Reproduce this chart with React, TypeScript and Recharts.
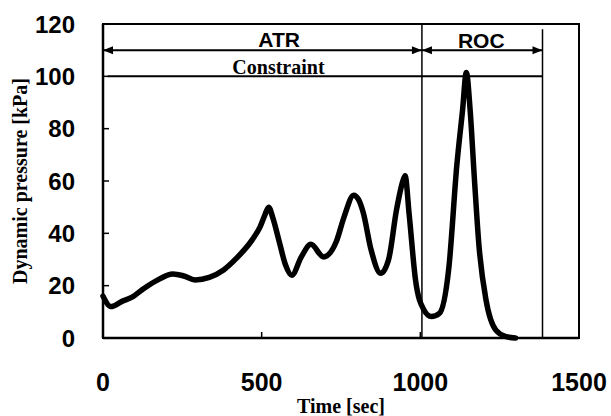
import React from "react";
import {
  LineChart,
  Line,
  XAxis,
  YAxis,
  ReferenceLine,
  ReferenceArea,
  ReferenceDot,
} from "recharts";

// time [sec]
const times = [
  0, 25, 60, 90, 130, 170, 220, 255, 290, 335, 380, 420, 470, 495, 510, 522,
  535, 555, 575, 595, 625, 655, 695, 735, 760, 790, 805, 820, 845, 875, 900,
  925, 945, 952, 965, 985, 1010, 1035, 1060, 1090, 1115, 1133, 1145, 1157,
  1170, 1185, 1207, 1238, 1270, 1300,
];
// dynamic pressure [kPa]
const pressure = [
  16, 12, 14, 15.5, 19, 22, 24.5, 23.7, 22.2, 23.2, 26, 30.4, 37.5, 42.5, 47,
  50, 46, 37, 28, 24, 31, 35.8, 31, 36.8, 46.4, 54.6, 53, 48, 33.6, 24.7, 30,
  49, 60, 62, 47, 22, 11, 8.2, 9.4, 27, 66, 87, 101.5, 87, 61.6, 35, 14.5, 3,
  0.5, 0,
];

const xTicks = [0, 500, 1000, 1500];
const yTicks = [0, 20, 40, 60, 80, 100, 120];

const constraint = 100;
const atrEnd = 1005;
const rocEnd = 1385;
const arrowLevel = 110;

const data = times.map((t, i) => ({ t, p: pressure[i] }));

const SANS = "'Liberation Sans', Arial, sans-serif";
const SERIF = "'Liberation Serif', 'Times New Roman', serif";

const YTick = (props: any) => {
  const { x, y, payload } = props;
  return (
    <g>
      <line x1={x} x2={x + 6} y1={y} y2={y} stroke="#000" strokeWidth={1.5} />
      <text
        x={x - 28}
        y={y}
        textAnchor="end"
        dominantBaseline="central"
        fontFamily={SANS}
        fontWeight="bold"
        fontSize={24}
        fill="#000"
      >
        {payload.value}
      </text>
    </g>
  );
};

const XTick = (props: any) => {
  const { x, y, payload } = props;
  return (
    <g>
      <line x1={x} x2={x} y1={y} y2={y - 6} stroke="#000" strokeWidth={1.5} />
      <text
        x={x}
        y={y + 44}
        textAnchor="middle"
        dominantBaseline="central"
        fontFamily={SANS}
        fontWeight="bold"
        fontSize={25}
        fill="#000"
      >
        {payload.value}
      </text>
    </g>
  );
};

// double headed arrow
const Arrow = (props: any) => {
  const { x1, y1, x2, y2 } = props;
  const a = 10;
  const h = 4;
  return (
    <g>
      <line x1={x1} y1={y1} x2={x2} y2={y2} stroke="#000" strokeWidth={2} />
      <path
        d={`M${x1},${y1} L${x1 + a},${y1 - h} L${x1 + a},${y1 + h} Z`}
        fill="#000"
      />
      <path
        d={`M${x2},${y2} L${x2 - a},${y2 - h} L${x2 - a},${y2 + h} Z`}
        fill="#000"
      />
    </g>
  );
};

const textDot = (label: string, font: string, size: number) => (p: any) => (
  <text
    x={p.cx}
    y={p.cy}
    textAnchor="middle"
    fontFamily={font}
    fontWeight="bold"
    fontSize={size}
    fill="#000"
  >
    {label}
  </text>
);

const YLabel = (props: any) => {
  const cx = 20;
  const cy = 181;
  return (
    <text
      x={cx}
      y={cy}
      transform={`rotate(-90 ${cx} ${cy})`}
      textAnchor="middle"
      dominantBaseline="central"
      fontFamily={SERIF}
      fontWeight="bold"
      fontSize={20}
      fill="#000"
    >
      Dynamic pressure [kPa]
    </text>
  );
};

export default function App() {
  return (
    <div style={{ position: "absolute", left: 0, top: 0, background: "#fff" }}>
      <LineChart
        width={611}
        height={416}
        data={data}
        margin={{ top: 24, right: 32, bottom: 0, left: 0 }}
      >
        <XAxis
          dataKey="t"
          type="number"
          domain={[0, 1500]}
          ticks={xTicks}
          tick={<XTick />}
          tickLine={false}
          tickSize={0}
          tickMargin={0}
          height={78}
          axisLine={{ stroke: "#000", strokeWidth: 2.5 }}
          label={{
            value: "Time [sec]",
            position: "insideBottom",
            offset: 3,
            fontFamily: SERIF,
            fontWeight: "bold",
            fontSize: 20,
            fill: "#000",
          }}
        />
        <YAxis
          type="number"
          domain={[0, 120]}
          ticks={yTicks}
          tick={<YTick />}
          tickLine={false}
          tickSize={0}
          tickMargin={0}
          width={103}
          axisLine={{ stroke: "#000", strokeWidth: 2.5 }}
          label={<YLabel />}
        />
        <ReferenceArea
          x1={0}
          x2={1500}
          y1={0}
          y2={120}
          fill="none"
          stroke="#000"
          strokeWidth={2}
          fillOpacity={0}
        />
        <ReferenceLine x={atrEnd} stroke="#000" strokeWidth={1.5} />
        <ReferenceLine
          segment={[
            { x: rocEnd, y: 0 },
            { x: rocEnd, y: 118 },
          ]}
          stroke="#000"
          strokeWidth={1.5}
        />
        <ReferenceLine
          segment={[
            { x: 15, y: constraint },
            { x: rocEnd, y: constraint },
          ]}
          stroke="#000"
          strokeWidth={2}
        />
        <ReferenceLine
          segment={[
            { x: 0, y: arrowLevel },
            { x: atrEnd, y: arrowLevel },
          ]}
          shape={Arrow}
        />
        <ReferenceLine
          segment={[
            { x: atrEnd, y: arrowLevel },
            { x: rocEnd, y: arrowLevel },
          ]}
          shape={Arrow}
        />
        <ReferenceDot x={555} y={111.4} r={0} shape={textDot("ATR", SANS, 21)} />
        <ReferenceDot x={1192} y={110.8} r={0} shape={textDot("ROC", SANS, 21)} />
        <ReferenceDot
          x={553}
          y={100.9}
          r={0}
          shape={textDot("Constraint", SERIF, 20)}
        />
        <Line
          dataKey="p"
          type="monotone"
          stroke="#000"
          strokeWidth={5.5}
          dot={false}
          strokeLinejoin="round"
          strokeLinecap="round"
          isAnimationActive={false}
        />
      </LineChart>
    </div>
  );
}
